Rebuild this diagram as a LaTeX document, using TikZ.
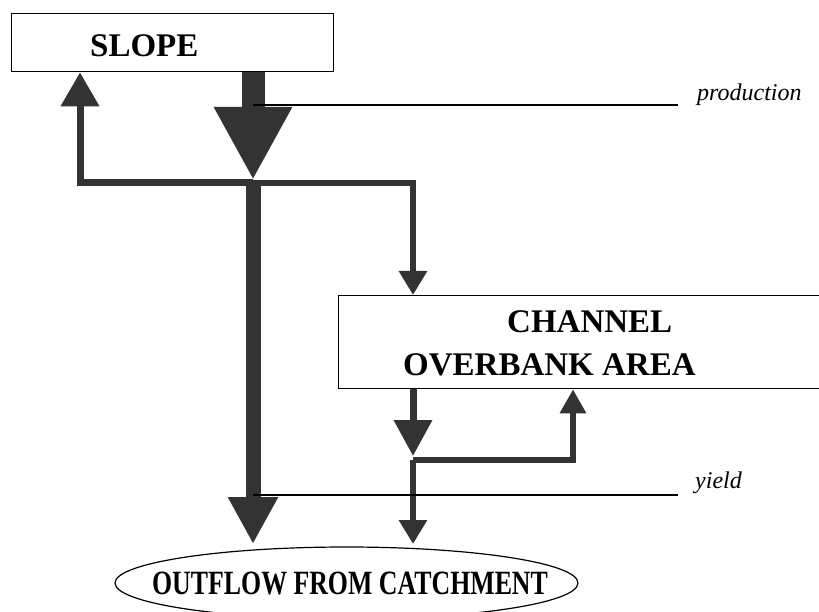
\documentclass[tikz,border=0pt]{standalone}
\usepackage{fontspec}
\usepackage{graphicx}
\setmainfont{Liberation Serif}
\usetikzlibrary{arrows.meta,shapes.geometric}
\definecolor{flowc}{RGB}{51,51,51}
\begin{document}
\begin{tikzpicture}[x=1pt,y=-1pt,
  box/.style={draw=black, line width=1.3pt, fill=white, inner sep=0pt},
  big/.style={font=\fontsize{33}{40}\selectfont\bfseries, inner sep=0pt, anchor=base west},
  note/.style={font=\fontsize{24}{28}\selectfont\itshape, inner sep=0pt, anchor=base west},
  flow/.style={draw=flowc, line join=miter},
  leader/.style={draw=black, line width=1.2pt}]
\useasboundingbox (0,0) rectangle (819,612);
\clip (0,0) rectangle (819,612);
% boxes
\node[box, minimum width=322pt, minimum height=58pt, anchor=north west] (slope) at (11,13) {};
\node[big] (slopetext) at (90,57) {SLOPE};
\node[box, minimum width=500pt, minimum height=93pt, anchor=north west] (chan) at (338,295) {};
\node[big] (chan1) at (507,332) {CHANNEL};
\node[big] (chan2) at (403,375) {OVERBANK AREA};
\node[draw, ellipse, line width=1.2pt, minimum width=463pt, minimum height=72pt, inner sep=0pt,
      font=\fontsize{34}{40}\selectfont\bfseries] (out) at (346.5,583)
      {\makebox[0pt]{\hspace{7pt}\scalebox{0.76}[1]{OUTFLOW FROM CATCHMENT}}};
% junctions
\coordinate (lx) at (80,0);
\coordinate (j1) at (253,183);
\coordinate (j2) at (413,460);
\coordinate (r1) at (573,460);
\coordinate (o1) at (253,544);
\coordinate (o2) at (413,544);
% flows
\draw[flow, line width=23pt, shorten >=3pt, -{Triangle[width=73pt,length=73pt]}] (slope.south -| j1) -- (j1);
\draw[flow, line width=7pt, -{Triangle[width=37pt,length=34pt]}] (j1) -| (slope.south -| lx);
\draw[flow, line width=6pt, -{Triangle[width=27pt,length=24pt]}] (j1) -| (chan.north -| j2);
\draw[flow, line width=15pt, -{Triangle[width=47pt,length=47pt]}] (j1) -- (o1);
\draw[flow, line width=7pt, shorten >=4pt, -{Triangle[width=37pt,length=36pt]}] (chan.south -| j2) -- (j2);
\draw[flow, line width=6pt, -{Triangle[width=25pt,length=24pt]}] (j2) -| (chan.south -| r1);
\draw[flow, line width=6pt, -{Triangle[width=27pt,length=24pt]}] (j2) -- (o2);
% labels
\node[note] (prod) at (697,101) {production};
\node[note] (yield) at (695,488) {yield};
\coordinate (p0) at (253,105);
\coordinate (p1) at (678,105);
\coordinate (y0) at (253,495);
\coordinate (y1) at (678,495);
\draw[leader] (p0) -- (p1);
\draw[leader] (y0) -- (y1);
\end{tikzpicture}
\end{document}
